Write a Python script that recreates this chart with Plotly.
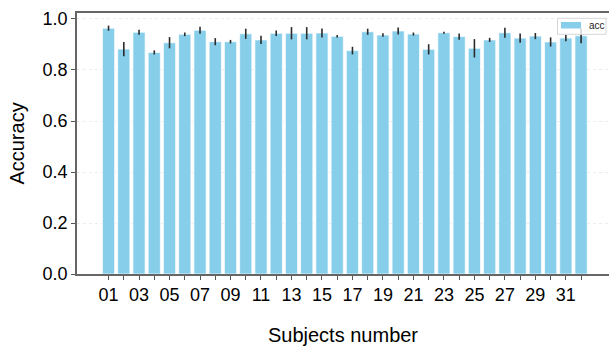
import plotly.graph_objects as go

# Per-subject mean accuracy and its spread
subjects = [f"{i:02d}" for i in range(1, 33)]
acc = [0.964, 0.882, 0.948, 0.869, 0.907, 0.940, 0.956, 0.911, 0.911, 0.942,
       0.918, 0.944, 0.944, 0.944, 0.945, 0.932, 0.876, 0.950, 0.937, 0.953,
       0.941, 0.881, 0.946, 0.931, 0.885, 0.918, 0.946, 0.925, 0.933, 0.910,
       0.925, 0.934]
acc_err = [0.010, 0.028, 0.010, 0.008, 0.022, 0.007, 0.014, 0.014, 0.007, 0.020,
           0.016, 0.011, 0.024, 0.024, 0.018, 0.005, 0.015, 0.012, 0.007, 0.014,
           0.006, 0.020, 0.004, 0.012, 0.036, 0.008, 0.020, 0.018, 0.012, 0.018,
           0.012, 0.029]
y_ticks = [0.0, 0.2, 0.4, 0.6, 0.8, 1.0]

W, H = 609, 350
L, R, T, B = 77, 0, 13, 76
BAR_COLOR = "#87CEEB"
FONT = "Liberation Sans, Arial, sans-serif"

xpos = list(range(len(subjects)))
tick_text = [s if i % 2 == 0 else "" for i, s in enumerate(subjects)]

fig = go.Figure()
fig.add_trace(go.Bar(
    x=xpos, y=acc, name="acc", width=0.8,
    marker=dict(color=BAR_COLOR, line=dict(color="rgba(255,255,255,0.7)", width=1)),
    error_y=dict(type="data", array=acc_err, visible=True,
                 color="#2b2b2b", thickness=1.6, width=0),
    showlegend=False,
))

# Legend box drawn in the upper-right corner of the axes
pw, ph = W - L - R, H - T - B


def fx(px):
    return (px - L) / pw


def fy(py):
    return 1 - (py - T) / ph


fig.add_shape(type="rect", xref="x domain", yref="y domain",
              x0=fx(557.5), x1=fx(606), y0=fy(34.3), y1=fy(18.3),
              fillcolor="rgba(255,255,255,0.8)",
              line=dict(color="#d6d6d6", width=1), layer="above")
fig.add_shape(type="rect", xref="x domain", yref="y domain",
              x0=fx(561), x1=fx(581), y0=fy(28.5), y1=fy(22),
              fillcolor=BAR_COLOR, line=dict(width=0), layer="above")
fig.add_annotation(xref="x domain", yref="y domain", x=fx(587), y=fy(25.5),
                   text="acc", showarrow=False, xanchor="left", yanchor="middle",
                   font=dict(family=FONT, size=10, color="#222"))

fig.update_layout(
    width=W, height=H,
    margin=dict(l=L, r=R, t=T, b=B),
    paper_bgcolor="white", plot_bgcolor="white",
    font=dict(family=FONT, size=18, color="black"),
    bargap=0.2,
)
fig.update_xaxes(
    range=[-2.07, 32.83],
    tickmode="array", tickvals=xpos, ticktext=tick_text,
    ticks="outside", ticklen=4, tickcolor="#555", tickwidth=1,
    showline=True, linecolor="#666", linewidth=1.5, mirror=True,
    showgrid=False, zeroline=False,
    tickfont=dict(size=18),
    title=dict(text="Subjects number", font=dict(size=20), standoff=24),
)
fig.update_yaxes(
    range=[0, 1.0235],
    tickmode="array", tickvals=y_ticks, ticktext=[f"{v:.1f}" for v in y_ticks],
    ticks="outside", ticklen=4, tickcolor="#555", tickwidth=1,
    showline=True, linecolor="#666", linewidth=1.5, mirror=False,
    showgrid=True, gridcolor="#ececec", griddash="dot", gridwidth=1,
    zeroline=False,
    tickfont=dict(size=18),
    title=dict(text="Accuracy", font=dict(size=20), standoff=13),
)

fig.write_html("out.html")
